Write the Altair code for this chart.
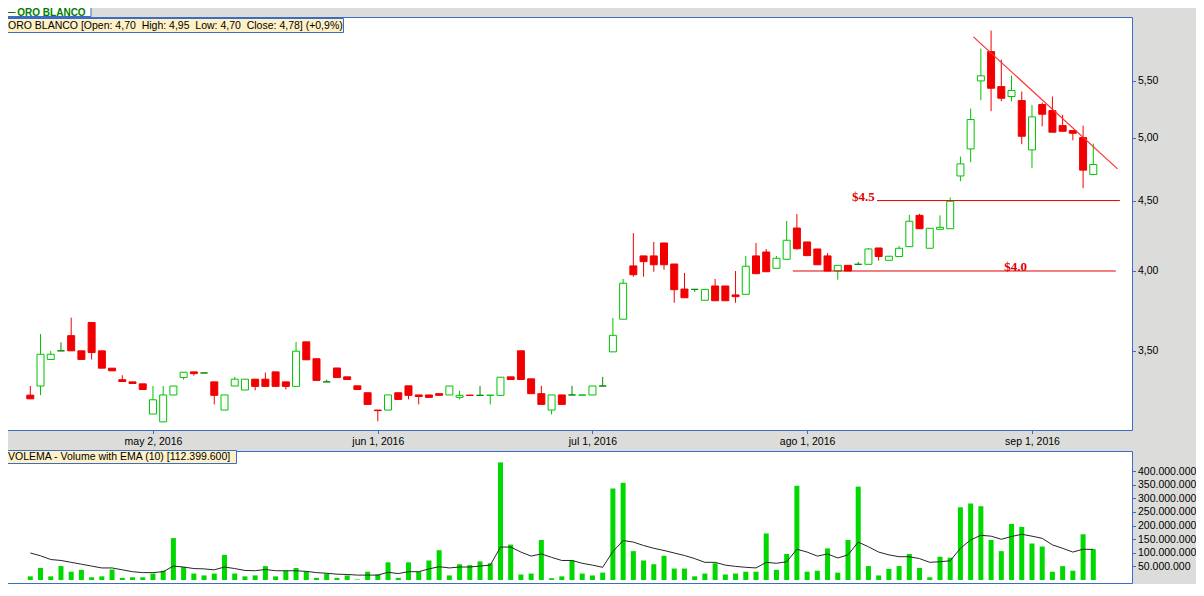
import altair as alt
import pandas as pd
import numpy as np

# ---------------- data ----------------
opens = [3.25, 3.30, 3.45, 3.50, 3.59, 3.50, 3.67, 3.50, 3.40, 3.335,
         3.323, 3.312, 3.149, 3.108, 3.251, 3.347, 3.379, 3.373, 3.323, 3.17,
         3.30, 3.278, 3.338, 3.338, 3.379, 3.323, 3.298, 3.553, 3.454, 3.323,
         3.401, 3.351, 3.301, 3.263, 3.17, 3.17, 3.263, 3.301, 3.251, 3.251,
         3.258, 3.251, 3.238, 3.250, 3.249, 3.249, 3.249, 3.351, 3.50, 3.340,
         3.258, 3.17, 3.251, 3.251, 3.250, 3.251, 3.30, 3.494, 3.69, 4.034,
         4.102, 4.102, 4.192, 4.047, 3.881, 3.879, 3.809, 3.901, 3.901, 3.843,
         3.847, 4.102, 4.129, 4.018, 4.079, 4.298, 4.199, 4.150, 4.102, 4.00,
         4.038, 4.045, 4.045, 4.157, 4.072, 4.098, 4.166, 4.39, 4.155, 4.289,
         4.293, 4.689, 4.906, 5.497, 5.773, 5.445, 5.355, 5.319, 4.898, 5.284,
         5.231, 5.101, 5.059, 5.00, 4.70]
highs = [3.30, 3.60, 3.50, 3.55, 3.70, 3.50, 3.67, 3.50, 3.40, 3.36,
         3.323, 3.312, 3.30, 3.30, 3.30, 3.377, 3.379, 3.373, 3.323, 3.251,
         3.351, 3.338, 3.338, 3.375, 3.379, 3.323, 3.553, 3.553, 3.454, 3.335,
         3.401, 3.351, 3.301, 3.263, 3.17, 3.251, 3.263, 3.301, 3.251, 3.251,
         3.258, 3.30, 3.274, 3.250, 3.301, 3.250, 3.349, 3.351, 3.50, 3.340,
         3.301, 3.251, 3.251, 3.301, 3.251, 3.30, 3.351, 3.698, 3.947, 4.262,
         4.102, 4.199, 4.192, 4.047, 3.987, 3.879, 3.879, 3.947, 3.901, 4.00,
         4.102, 4.192, 4.150, 4.102, 4.349, 4.40, 4.199, 4.150, 4.122, 4.038,
         4.038, 4.061, 4.157, 4.157, 4.10, 4.171, 4.393, 4.402, 4.296, 4.39,
         4.523, 4.844, 5.248, 5.802, 5.98, 5.697, 5.546, 5.40, 5.281, 5.301,
         5.355, 5.194, 5.059, 5.101, 4.95]
lows = [3.23, 3.25, 3.45, 3.50, 3.50, 3.45, 3.45, 3.40, 3.385, 3.325,
        3.314, 3.281, 3.149, 3.108, 3.251, 3.335, 3.358, 3.373, 3.20, 3.17,
        3.30, 3.278, 3.276, 3.298, 3.298, 3.281, 3.298, 3.448, 3.331, 3.323,
        3.347, 3.336, 3.281, 3.20, 3.111, 3.17, 3.227, 3.227, 3.20, 3.238,
        3.249, 3.251, 3.227, 3.249, 3.249, 3.20, 3.249, 3.336, 3.336, 3.258,
        3.20, 3.147, 3.20, 3.251, 3.250, 3.251, 3.30, 3.494, 3.69, 3.962,
        3.962, 3.995, 4.009, 3.793, 3.825, 3.863, 3.809, 3.806, 3.806, 3.793,
        3.847, 3.982, 3.995, 4.018, 4.079, 4.145, 4.104, 4.042, 4.00, 3.942,
        4.00, 4.045, 4.045, 4.070, 4.072, 4.098, 4.166, 4.293, 4.155, 4.289,
        4.293, 4.648, 4.798, 5.322, 5.225, 5.313, 5.313, 4.945, 4.75, 5.095,
        5.045, 5.053, 4.977, 4.594, 4.70]
closes = [3.23, 3.48, 3.48, 3.50, 3.50, 3.45, 3.49, 3.40, 3.385, 3.325,
          3.314, 3.281, 3.225, 3.251, 3.30, 3.377, 3.369, 3.373, 3.249, 3.251,
          3.338, 3.338, 3.298, 3.298, 3.298, 3.298, 3.498, 3.448, 3.331, 3.323,
          3.347, 3.336, 3.281, 3.20, 3.167, 3.251, 3.227, 3.249, 3.243, 3.238,
          3.249, 3.30, 3.249, 3.249, 3.249, 3.250, 3.349, 3.336, 3.336, 3.258,
          3.20, 3.251, 3.20, 3.251, 3.251, 3.30, 3.30, 3.592, 3.919, 3.975,
          4.063, 4.042, 4.042, 3.877, 3.825, 3.879, 3.879, 3.806, 3.806, 3.832,
          4.032, 3.982, 3.995, 4.086, 4.211, 4.152, 4.104, 4.042, 4.00, 4.038,
          4.00, 4.045, 4.150, 4.098, 4.10, 4.155, 4.347, 4.293, 4.296, 4.303,
          4.495, 4.785, 5.153, 5.544, 5.43, 5.34, 5.409, 5.011, 5.176, 5.199,
          5.045, 5.053, 5.036, 4.735, 4.78]
volumes_m = [13.4, 44.3, 13.4, 51.1, 30.5, 37.4, 10, 13.4, 38.6, 7.7,
             10, 10, 23.7, 34, 154, 47.7, 23.7, 16.8, 23.7, 92.3,
             23.7, 13.4, 16.8, 51.1, 13.4, 34, 44.3, 31.7, 7.7, 23.7,
             7.7, 16.8, 2, 30.5, 20.3, 64.9, 7.7, 64.9, 30.5, 71.7,
             109.5, 16.8, 58, 54.6, 68.3, 61.4, 432, 130, 20.3, 23.7,
             147, 6.5, 13.4, 71.7, 23.7, 16.8, 27.1, 336, 357, 106,
             71.7, 58, 88.9, 42, 42, 13.4, 23.7, 61.4, 20.3, 23.7,
             30.5, 30.5, 171, 37.4, 95.7, 346, 30.5, 34, 116, 27.1,
             147, 343, 51.1, 16.8, 40.8, 51.1, 95.7, 44.3, 10, 85.5,
             82, 267, 281, 271, 147, 106, 206, 195, 134, 123,
             30.5, 51.1, 34, 168, 112.9]
ema_m = [99.2, 88.9, 75.2, 71.7, 64.9, 58, 51.1, 44.3, 44.3, 37.4,
         30.5, 27.1, 27.1, 30.5, 51.1, 47.7, 42, 40.8, 37.4, 47.7,
         42, 35.1, 34, 38.6, 34, 34, 34, 31.7, 27.1, 24.8,
         21.4, 20.3, 18, 18, 18, 28.3, 23.7, 30.5, 30.5, 40.8,
         48.9, 44.3, 47.7, 47.7, 51.1, 54.6, 121, 121, 102.6, 87.8,
         95.7, 83.2, 71.7, 71.7, 61.4, 54.6, 46.6, 104.9, 145, 139.2,
         126.7, 116.4, 108.4, 99.2, 90, 78.6, 64.9, 64.9, 54.6, 50,
         46.6, 44.3, 64.9, 61.4, 67.1, 113, 102.6, 87.8, 95.7, 80.9,
         92.3, 139.2, 122.1, 102.6, 92.3, 85.5, 85.5, 78.6, 64.9, 67.1,
         70.5, 116.4, 147.2, 164.3, 161, 149.5, 159.8, 167.8, 161, 153,
         129, 116.4, 102.6, 112.9, 112.4]

tick_idx = [12, 34, 55, 76, 98]
tick_labels = ["may 2, 2016", "jun 1, 2016", "jul 1, 2016", "ago 1, 2016", "sep 1, 2016"]
price_ticks = [3.5, 4.0, 4.5, 5.0, 5.5]
vol_ticks = [50e6, 100e6, 150e6, 200e6, 250e6, 300e6, 350e6, 400e6]

level_prices = [4.5, 4.0]
level_labels = ["$4.5", "$4.0"]
level_from = [82.84, 74.6]
level_to = [106.6, 106.2]
level_label_idx = [81.5, 96.4]
level_label_dy = [6.3, -2.0]

trend_idx = [92.27, 106.37]
trend_price = [5.917, 4.745]

# ---------------- styling ----------------
W, H = 1188, 576
BG = "#dcdcda"
BLUE = "#3a6cc8"
GREEN = "#00c400"
DKGREEN = "#008a00"
RED = "#f00000"
VGREEN = "#00d800"
TIPFILL = "#fff1c6"
FONT = "Liberation Sans"
FRAME_RIGHT = 1124.5
PRICE_BOTTOM = 422.5

n = len(opens)
df = pd.DataFrame({
    "idx": np.arange(n),
    "open": opens, "high": highs, "low": lows, "close": closes,
    "vol": np.array(volumes_m) * 1e6,
    "ema": np.array(ema_m) * 1e6,
})
df["kind"] = np.where(df["close"] > df["open"], "up",
                      np.where(df["close"] < df["open"], "down", "flat"))

levels = pd.DataFrame({"price": level_prices, "label": level_labels,
                       "x0": level_from, "x1": level_to,
                       "tx": level_label_idx, "dy": level_label_dy})
trend = pd.DataFrame({"x0": [trend_idx[0]], "x1": [trend_idx[1]],
                      "y0": [trend_price[0]], "y1": [trend_price[1]]})

XS = alt.Scale(domain=[0, 104], range=[17.3, 1090.3], nice=False, zero=False)
PS = alt.Scale(type="log", domain=[3.066, 6.117], range=[422, 9], nice=False, zero=False)
VS = alt.Scale(domain=[0, 473.8e6], range=[572, 443], nice=False, zero=False)

x_expr = " : ".join(f"datum.value == {i} ? '{l}'" for i, l in zip(tick_idx, tick_labels)) + " : ''"
XAX = alt.Axis(orient="bottom", offset=PRICE_BOTTOM - H, values=tick_idx, labelExpr=x_expr,
               tickSize=3, tickColor=BLUE, domain=False, grid=False, title=None,
               labelFont=FONT, labelFontSize=10.5, labelColor="black", labelPadding=3)
PAX = alt.Axis(orient="right", offset=FRAME_RIGHT - W, values=price_ticks,
               labelExpr="replace(format(datum.value, '.2f'), '.', ',')",
               tickSize=3, tickColor=BLUE, domain=False, grid=False, title=None,
               labelFont=FONT, labelFontSize=10.5, labelColor="black", labelPadding=2)
VAX = alt.Axis(orient="right", offset=FRAME_RIGHT - W, values=vol_ticks,
               labelExpr="replace(format(datum.value, ',d'), regexp(',', 'g'), '.')",
               tickSize=3, tickColor=BLUE, domain=False, grid=False, title=None,
               labelFont=FONT, labelFontSize=10.5, labelColor="black", labelPadding=2)

kind_dom = ["up", "down", "flat"]
FILL = alt.Scale(domain=kind_dom, range=["white", RED, DKGREEN])
STROKE = alt.Scale(domain=kind_dom, range=[GREEN, RED, DKGREEN])

X = lambda f: alt.X(f, scale=XS, axis=XAX, title=None)

base = alt.Chart(df)

wicks = base.mark_rule(strokeWidth=1).encode(
    x=X("idx:Q"),
    y=alt.Y("low:Q", scale=PS, axis=PAX),
    y2="high:Q",
    stroke=alt.Stroke("kind:N", scale=STROKE, legend=None),
)
bodies = base.mark_bar(size=7, strokeWidth=1).encode(
    x=X("idx:Q"),
    y=alt.Y("open:Q", scale=PS, axis=PAX),
    y2="close:Q",
    fill=alt.Fill("kind:N", scale=FILL, legend=None),
    stroke=alt.Stroke("kind:N", scale=STROKE, legend=None),
)
hlines = alt.Chart(levels).mark_rule(color="#e00000", strokeWidth=1).encode(
    x=X("x0:Q"), x2="x1:Q",
    y=alt.Y("price:Q", scale=PS, axis=PAX),
)
hlabels = alt.Chart(levels).mark_text(font="Liberation Serif", fontWeight="bold",
                                      fontSize=13, color="#e00000",
                                      align="center", baseline="alphabetic").encode(
    x=X("tx:Q"),
    y=alt.Y("price:Q", scale=PS, axis=PAX),
    text="label:N",
    yOffset="dy:Q",
)
trendline = alt.Chart(trend).mark_rule(color="#ff3030", strokeWidth=1.2).encode(
    x=X("x0:Q"), x2="x1:Q",
    y=alt.Y("y0:Q", scale=PS, axis=PAX), y2="y1:Q",
)
price = alt.layer(wicks, bodies, hlines, trendline, hlabels)

vbars = base.mark_bar(size=5, color=VGREEN).encode(
    x=X("idx:Q"),
    y=alt.Y("vol:Q", scale=VS, axis=VAX),
)
emaline = base.mark_line(color="#262626", strokeWidth=1).encode(
    x=X("idx:Q"),
    y=alt.Y("ema:Q", scale=VS, axis=VAX),
)
volume = alt.layer(vbars, emaline)

one = alt.Chart(pd.DataFrame({"z": [0]}))

def box(x0, x1, y0, y1, fill):
    return one.mark_rect(fill=fill, stroke=BLUE, strokeWidth=1).encode(
        x=alt.value(x0), x2=alt.value(x1), y=alt.value(y0), y2=alt.value(y1))

def label(txt, x, y, baseline="middle", **kw):
    return one.mark_text(align="left", baseline=baseline, **kw).encode(
        x=alt.value(x), y=alt.value(y), text=alt.value(txt))

frames = alt.layer(
    box(-6, FRAME_RIGHT, 9.5, PRICE_BOTTOM, "white"),
    box(-6, FRAME_RIGHT, 443.5, 575.5, "white"),
)

NB = "\u00a0"
tip_text = ("ORO BLANCO [Open: 4,70" + NB + NB + "High: 4,95" + NB + NB + "Low: 4,70"
            + NB + NB + "Close: 4,78] (+0,9%)")
overlay = alt.layer(
    box(-6, 83, -1, 8.5, "white"),
    one.mark_rule(color="#008000", strokeWidth=1).encode(
        x=alt.value(-3), x2=alt.value(7.5), y=alt.value(4.5)),
    label("ORO BLANCO", 9.3, 8.2, baseline="alphabetic", font=FONT, fontSize=10,
          fontWeight="bold", color="#008000"),
    box(-6, 335.5, 10.5, 24.5, TIPFILL),
    label(tip_text, 0, 17.8, font=FONT, fontSize=10.5, color="black"),
    box(-6, 228.5, 442.5, 455.5, TIPFILL),
    label("VOLEMA - Volume with EMA (10) [112.399.600]", 0, 449.2,
          font=FONT, fontSize=10.5, color="black"),
)

chart = alt.layer(frames, price, volume, overlay).resolve_scale(
    y="independent"
).properties(
    width=W, height=H,
    autosize=alt.AutoSizeParams(type="none"),
    padding=0,
    background=BG,
).configure_view(stroke=None)

chart.save("out.html", embed_options={"renderer": "svg", "actions": False})
